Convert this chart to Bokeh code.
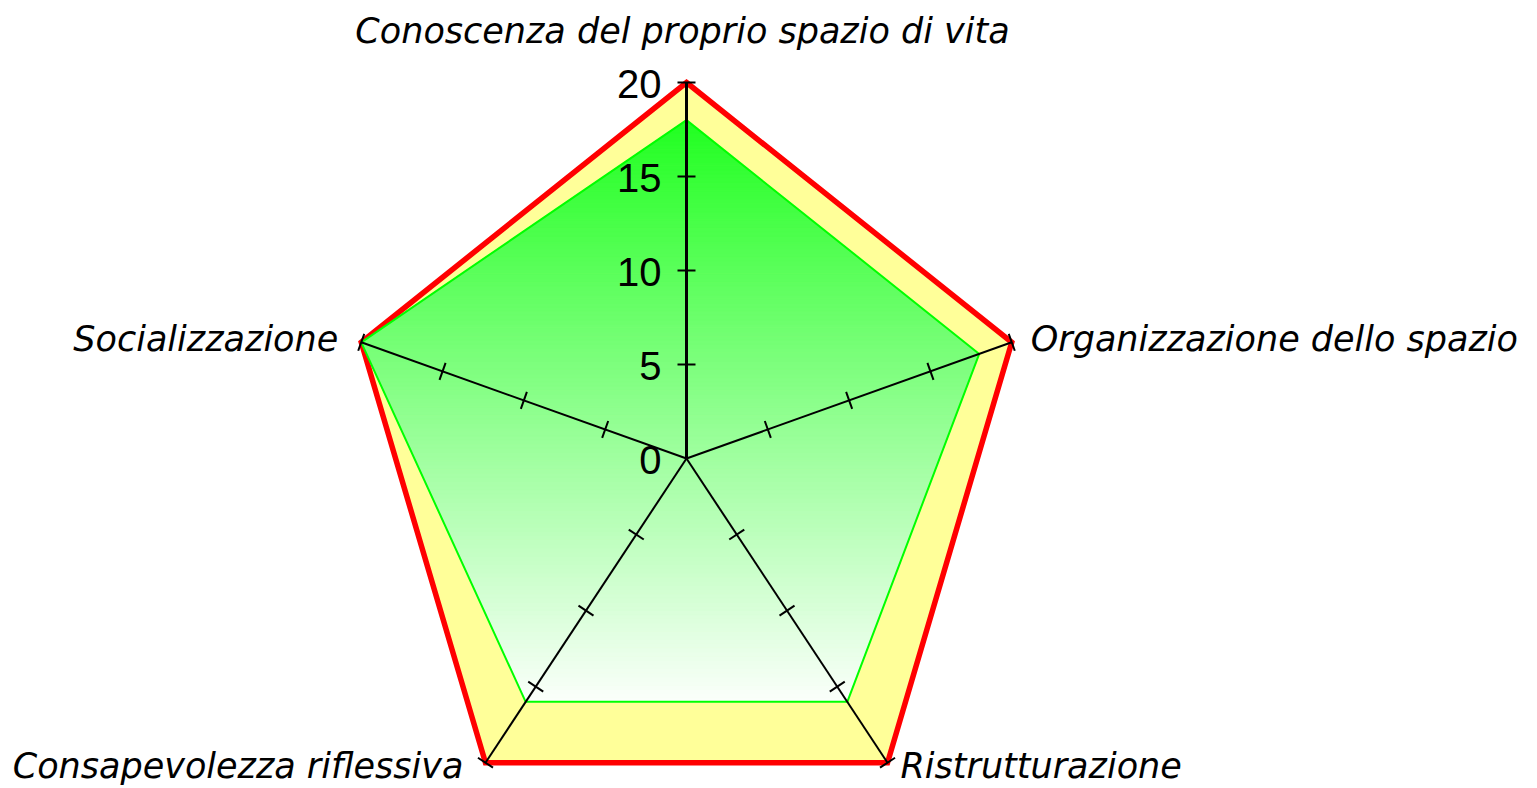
import numpy as np
from bokeh.plotting import figure
from bokeh.models import Range1d
from bokeh.core.properties import value
from bokeh.embed import file_html
from bokeh.resources import INLINE

# ---------------- data ----------------
categories = ["Conoscenza del proprio spazio di vita", "Organizzazione dello spazio",
              "Ristrutturazione", "Consapevolezza riflessiva", "Socializzazione"]
max_values = [20, 20, 20, 20, 20]
values = [18, 18, 16, 16, 20]
tick_values = [0, 5, 10, 15, 20]
tick_labels = ["0", "5", "10", "15", "20"]
axis_max = 20

# ---------------- layout ----------------
W, H = 1537, 788
CX, CY = 686, 458          # centre of the radar in figure pixels (from top-left)
SX, SY = 17.1, 18.8        # pixels per unit in x and y

n = len(categories)
theta = np.pi / 2 - 2 * np.pi * np.arange(n) / n

p = figure(width=W, height=H,
           x_range=Range1d(-CX / SX, (W - CX) / SX),
           y_range=Range1d(-(H - CY) / SY, CY / SY),
           output_backend="svg", toolbar_location=None, min_border=0)
p.axis.visible = False
p.grid.visible = False
p.outline_line_color = None
p.background_fill_color = "white"
p.border_fill_color = "white"

# outer (max) polygon
mx = np.array(max_values) * np.cos(theta)
my = np.array(max_values) * np.sin(theta)
p.patch(list(mx), list(my), fill_color="#ffff99", line_color="#ff0000",
        line_width=5.5, line_join="miter")

# green polygon with vertical gradient (drawn as horizontal slabs)
gx = np.array(values) * np.cos(theta)
gy = np.array(values) * np.sin(theta)
poly = list(zip(gx, gy))


def clip_half(pts, y_lim, keep_above):
    out = []
    m = len(pts)
    for i in range(m):
        a = pts[i]
        b = pts[(i + 1) % m]
        ina = a[1] >= y_lim if keep_above else a[1] <= y_lim
        inb = b[1] >= y_lim if keep_above else b[1] <= y_lim
        if ina:
            out.append(a)
        if ina != inb:
            t = (y_lim - a[1]) / (b[1] - a[1])
            out.append((a[0] + t * (b[0] - a[0]), y_lim))
    return out


ytop, ybot = gy.max(), gy.min()
N = 140
edges = np.linspace(ybot, ytop, N + 1)
c_top = np.array([34, 255, 34])
c_bot = np.array([252, 255, 252])
sx_list, sy_list, cols = [], [], []
for k in range(N):
    lo, hi = edges[k], edges[k + 1]
    pts = clip_half(poly, lo, True)
    pts = clip_half(pts, hi, False)
    if len(pts) < 3:
        continue
    t = (ytop - 0.5 * (lo + hi)) / (ytop - ybot)
    c = (c_top * (1 - t) + c_bot * t).astype(int)
    cols.append("#%02x%02x%02x" % tuple(c))
    sx_list.append([q[0] for q in pts])
    sy_list.append([q[1] for q in pts])
p.patches(sx_list, sy_list, fill_color=cols, line_color=cols, line_width=1)
p.patch(list(gx), list(gy), fill_color=None, line_color="#00ff00", line_width=2)

# spokes
ex = axis_max * np.cos(theta)
ey = axis_max * np.sin(theta)
p.segment(x0=[0] * n, y0=[0] * n, x1=list(ex), y1=list(ey),
          line_color="black", line_width=[3] + [2] * (n - 1))

# tick marks (perpendicular in screen space)
L = 9
tx0, ty0, tx1, ty1 = [], [], [], []
for th in theta:
    dx, dy = np.cos(th) * SX, np.sin(th) * SY
    nrm = np.hypot(dx, dy)
    nx, ny = -dy / nrm, dx / nrm
    for v in tick_values[1:]:
        x0, y0 = v * np.cos(th), v * np.sin(th)
        tx0.append(x0 - nx * L / SX)
        ty0.append(y0 - ny * L / SY)
        tx1.append(x0 + nx * L / SX)
        ty1.append(y0 + ny * L / SY)
p.segment(x0=tx0, y0=ty0, x1=tx1, y1=ty1, line_color="black", line_width=2)

# tick labels on the vertical axis
p.text(x=[0] * len(tick_values), y=tick_values, text=tick_labels,
       text_font=value("Liberation Sans"), text_font_size="40px",
       text_color="black", text_align="right", text_baseline="middle",
       x_offset=-25, y_offset=1)

# category labels
label_cfg = [("center", -4, -52), ("left", 19, -3), ("left", 13, 3),
             ("right", -22, 3), ("right", -23, -3)]
for i, (cat, (al, xo, yo)) in enumerate(zip(categories, label_cfg)):
    p.text(x=[ex[i]], y=[ey[i]], text=[cat],
           text_font=value("DejaVu Sans"), text_font_style="italic",
           text_font_size="35px", text_color="black",
           text_align=al, text_baseline="middle", x_offset=xo, y_offset=yo)

open("out.html", "w").write(file_html(p, INLINE))
